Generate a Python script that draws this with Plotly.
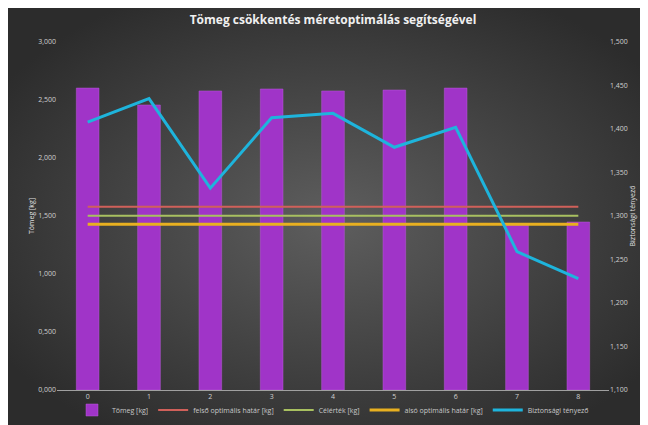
import base64
import plotly.graph_objects as go
from plotly.subplots import make_subplots

categories = ["0", "1", "2", "3", "4", "5", "6", "7", "8"]
mass_kg = [2.603, 2.457, 2.578, 2.595, 2.578, 2.586, 2.603, 1.422, 1.448]
upper_limit = [1.580] * 9
target_kg = [1.503] * 9
lower_limit = [1.428] * 9
safety_factor = [1.408, 1.435, 1.332, 1.413, 1.418, 1.379, 1.402, 1.259, 1.228]

left_ticks = [0, 0.5, 1.0, 1.5, 2.0, 2.5, 3.0]
left_tick_text = ["0,000", "0,500", "1,000", "1,500", "2,000", "2,500", "3,000"]
right_ticks = [1.10, 1.15, 1.20, 1.25, 1.30, 1.35, 1.40, 1.45, 1.50]
right_tick_text = ["1,100", "1,150", "1,200", "1,250", "1,300", "1,350", "1,400", "1,450", "1,500"]

W, H = 648, 425
L, R, T, B = 49, 47, 34, 43
pw, ph = W - L - R, H - T - B

svg = (
    '<svg xmlns="http://www.w3.org/2000/svg" width="648" height="425" preserveAspectRatio="none">'
    '<defs><radialGradient id="g" cx="50%" cy="50%" r="60%">'
    '<stop offset="0%" stop-color="#5e5e5e"/><stop offset="100%" stop-color="#2c2c2c"/>'
    '</radialGradient></defs><rect width="648" height="425" fill="url(#g)"/></svg>'
)
src = "data:image/svg+xml;base64," + base64.b64encode(svg.encode()).decode()

fig = make_subplots(specs=[[{"secondary_y": True}]])

fig.add_trace(go.Bar(x=categories, y=mass_kg, name="Tömeg [kg]", width=0.37,
                     marker=dict(color="#a034c8", line=dict(color="#b85ad8", width=0.5))),
              secondary_y=False)
fig.add_trace(go.Scatter(x=categories, y=upper_limit, mode="lines", name="felső optimális határ [kg]",
                         line=dict(color="#d0605a", width=2)), secondary_y=False)
fig.add_trace(go.Scatter(x=categories, y=target_kg, mode="lines", name="Célérték [kg]",
                         line=dict(color="#a8c060", width=2)), secondary_y=False)
fig.add_trace(go.Scatter(x=categories, y=lower_limit, mode="lines", name="alsó optimális határ [kg]",
                         line=dict(color="#e8b020", width=3)), secondary_y=False)
fig.add_trace(go.Scatter(x=categories, y=safety_factor, mode="lines", name="Biztonsági tényező",
                         line=dict(color="#1eb4dc", width=3)), secondary_y=True)

fig.update_layout(
    width=W, height=H,
    margin=dict(l=L, r=R, t=T, b=B, autoexpand=False),
    paper_bgcolor="#333333",
    plot_bgcolor="rgba(0,0,0,0)",
    font=dict(family="Open Sans", color="#d0d0d0", size=7),
    title=dict(text="<b>Tömeg csökkentés méretoptimálás segítségével</b>",
               x=325 / W, xanchor="center", y=1 - 12 / H, yanchor="middle",
               font=dict(size=12, color="#f0f0f0", family="Open Sans")),
    showlegend=True,
    legend=dict(orientation="h", x=0.5, xanchor="center", y=-20 / ph, yanchor="middle",
                font=dict(size=7, color="#c8c8c8"), bgcolor="rgba(0,0,0,0)", itemwidth=30),
    images=[dict(source=src, xref="paper", yref="paper",
                 x=-L / pw, y=1 + T / ph, sizex=W / pw, sizey=H / ph,
                 xanchor="left", yanchor="top", sizing="stretch", layer="below")],
)

fig.update_xaxes(type="category", range=[-0.5, 8.5], domain=[0, 1], showgrid=False, showline=True,
                 automargin=False, linecolor="#a0a0a0", linewidth=1, ticks="",
                 tickfont=dict(size=7, color="#d0d0d0"))
fig.update_yaxes(range=[0, 3.0], tickvals=left_ticks, ticktext=left_tick_text, showgrid=False,
                 zeroline=False, automargin=False,
                 title=dict(text="Tömeg [kg]", font=dict(size=7, color="#e0e0e0"), standoff=2),
                 tickfont=dict(size=7, color="#d0d0d0"), secondary_y=False)
fig.update_yaxes(range=[1.10, 1.50], tickvals=right_ticks, ticktext=right_tick_text, showgrid=False,
                 zeroline=False, automargin=False,
                 title=dict(text="Biztonsági tényező", font=dict(size=7, color="#e0e0e0"), standoff=2),
                 tickfont=dict(size=7, color="#d0d0d0"), secondary_y=True)

fig.write_html("out.html")
